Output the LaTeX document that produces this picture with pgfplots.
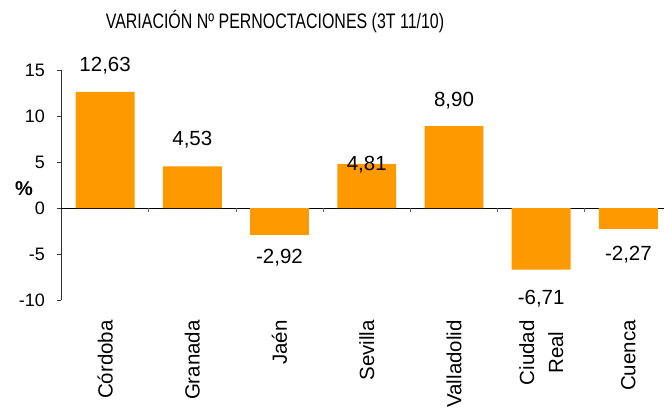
\documentclass[border=0pt]{standalone}
\usepackage{fontspec}
\setmainfont{Liberation Sans}
\newfontfamily\titlefont[FakeStretch=0.76]{Liberation Sans}
\usepackage{pgfplots}
\usepackage{pgfplotstable}
\pgfplotsset{compat=1.18}
\definecolor{barorange}{HTML}{FF9900}
\pgfplotstableread{
x y ly lab
0 12.63 15.57 12,63
1 4.53 7.52 4,53
2 -2.92 -5.29 -2,92
3 4.81 4.82 4,81
4 8.90 11.79 8,90
5 -6.71 -9.76 -6,71
6 -2.27 -4.89 -2,27
}\datatable
\begin{document}
\begin{tikzpicture}
\begin{axis}[
  scale only axis, width=610.5pt, height=230pt,
  xmin=-0.5, xmax=6.5, ymin=-10, ymax=15,
  clip=false,
  axis y line*=left, axis x line*=bottom,
  x axis line style={draw=none},
  y axis line style={black!80, line width=0.6pt},
  xtick={0,...,6},
  xticklabels={Córdoba, Granada, Jaén, Sevilla, Valladolid, {Ciudad\\Real}, Cuenca},
  xtick style={draw=none},
  ytick={-10,-5,0,5,10,15},
  ytick style={black!80, line width=0.6pt},
  tick align=outside, major tick length=4pt,
  /pgf/number format/assume math mode=true,
  yticklabel style={font=\fontsize{18}{20}\selectfont, xshift=-9pt},
  xticklabel style={font=\fontsize{20.5}{29}\selectfont, yshift=-16pt, rotate=90, anchor=east, align=center, inner sep=0pt},
  ylabel={\%},
  every axis y label/.style={at={(rel axis cs:0,0.483)}, xshift=-37.5pt, anchor=center, font=\bfseries\fontsize{20}{24}\selectfont},
  title={VARIACIÓN Nº PERNOCTACIONES (3T 11/10)},
  every axis title/.style={at={(rel axis cs:0.3497,1.181)}, anchor=base, font=\titlefont\fontsize{21}{24}\selectfont},
]
\draw[black, line width=0.6pt] (axis cs:-0.5,0) -- (axis cs:6.5,0);
\pgfplotsinvokeforeach{0.5,1.5,2.5,3.5,4.5,5.5}{\draw[black!60, line width=0.6pt] (axis cs:#1,0) -- ([yshift=-4pt]axis cs:#1,0);}
\addplot[ybar, bar width=58.9pt, fill=barorange, draw=none] table[x=x,y=y]{\datatable};
\addplot[draw=none, mark=none, nodes near coords, point meta=explicit symbolic,
  every node near coord/.append style={anchor=center, font=\fontsize{20.5}{24}\selectfont, text depth=0pt, inner sep=0pt}]
  table[x=x, y=ly, meta=lab]{\datatable};
\end{axis}
\pgfresetboundingbox
\useasboundingbox ([shift={(-61.5pt,-110pt)}]current axis.south west) rectangle ([shift={(602.5pt,300pt)}]current axis.south west);
\end{tikzpicture}
\end{document}
